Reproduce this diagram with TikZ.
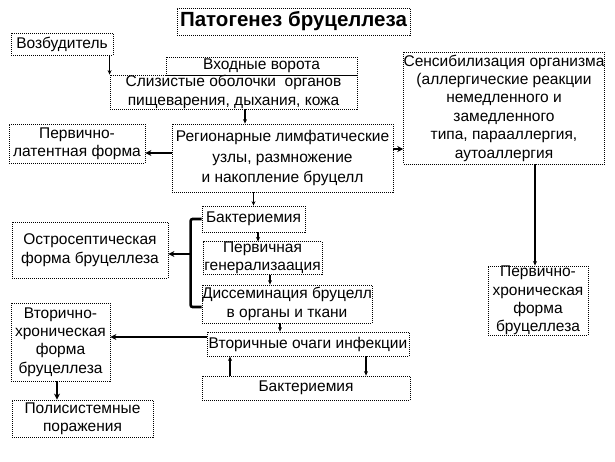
\documentclass[tikz,border=0pt]{standalone}
\usepackage{fontspec}
\setmainfont{Liberation Sans}
\usetikzlibrary{arrows.meta,calc}
\begin{document}
\begin{tikzpicture}[x=1pt,y=-1pt,
  box/.style={draw, dash pattern=on 1pt off 1pt, line width=0.8pt, inner sep=0pt,
    align=center, font=\fontsize{15.5}{18.4}\selectfont},
  thinarr/.style={line width=1.2pt, -{Stealth[length=4.5pt,width=4pt]}},
  thickarr/.style={line width=2.2pt, -{Stealth[length=6pt,width=6pt]}}]
\useasboundingbox (0,0) rectangle (615,461);
\fill[white] (0,0) rectangle (615,461);
% nodes
\node[box, minimum width=233, minimum height=27, font=\fontsize{20.5}{24}\selectfont\bfseries] (title) at (293.5,21.5) {Патогенез бруцеллеза};
\node[box, minimum width=102, minimum height=22] (vozb) at (62,44) {Возбудитель};
\node[box, minimum width=191, minimum height=18] (vhod) at (261.5,66) {Входные ворота};
\node[box, minimum width=247, minimum height=34] (sliz) at (233.5,92) {Слизистые оболочки \ органов\\пищеварения, дыхания, кожа};
\node[box, minimum width=221, minimum height=68, font=\fontsize{15.5}{20.5}\selectfont] (region) at (282.5,158) {Регионарные лимфатические\\узлы, размножение\\и накопление бруцелл};
\node[box, minimum width=136, minimum height=39] (perlat) at (77,143.5) {Первично-\\латентная форма};
\node[box, minimum width=198, minimum height=112] (sens) at (504,108) {Сенсибилизация организма\\(аллергические реакции\\немедленного и\\замедленного\\типа, парааллергия,\\аутоаллергия};
\node[box, minimum width=100, minimum height=65] (perchron) at (538,300.5) {Первично-\\хроническая\\форма\\бруцеллеза};
\node[box, minimum width=103, minimum height=26] (bakt1) at (253.5,219) {Бактериемия};
\node[box, minimum width=119, minimum height=32] (pergen) at (262.5,258) {Первичная\\генерализаация};
\node[box, minimum width=168, minimum height=38] (dissem) at (287,304) {Диссеминация бруцелл\\в органы и ткани};
\node[box, minimum width=156, minimum height=56] (ostro) at (90,250) {Остросептическая\\форма бруцеллеза};
\node[box, minimum width=202, minimum height=24] (vtor) at (308,344) {Вторичные очаги инфекции};
\node[box, minimum width=208, minimum height=24] (bakt2) at (306,388) {Бактериемия};
\node[box, minimum width=99, minimum height=78] (vtorchron) at (60.5,342) {Вторично-\\хроническая\\форма\\бруцеллеза};
\node[box, minimum width=141, minimum height=37] (polis) at (82.5,418.5) {Полисистемные\\поражения};
% connectors
\draw[thinarr] (vozb.south -| sliz.north west) -- (sliz.north west);
\draw[thinarr] ([xshift=11.5pt]sliz.south) -- ([xshift=11.5pt]sliz.south |- region.north);
\draw[thickarr] ([yshift=5pt]region.west) -- ([yshift=5pt]region.west -| perlat.east);
\draw[thickarr] ([yshift=9pt]region.east) -- ([yshift=9pt]region.east -| sens.west);
\draw[thinarr] ([xshift=-3pt]perchron.north |- sens.south) -- ([xshift=-3pt]perchron.north);
\draw[thinarr] (bakt1.north |- region.south) -- (bakt1.north);
\draw[thinarr] ([xshift=4.5pt]bakt1.south) -- ([xshift=4.5pt]bakt1.south |- pergen.north);
\draw[thinarr] ([xshift=7.5pt]pergen.south) -- ([xshift=7.5pt]pergen.south |- dissem.north);
\draw[thinarr] ([xshift=-7pt]dissem.south) -- ([xshift=-7pt]dissem.south |- vtor.north);
\coordinate (brtop) at ([xshift=-11pt]bakt1.west);
\draw[line width=2.6pt, rounded corners=2pt] (bakt1.west) -- (brtop) |- ([yshift=-3pt]dissem.west);
\draw[thickarr] ([yshift=-4pt]ostro.east -| brtop) -- ([yshift=-4pt]ostro.east);
\draw[thickarr] ([yshift=7pt]vtor.west) -- ([yshift=7pt]vtor.west -| vtorchron.east);
\draw[thinarr] ([xshift=-76pt]bakt2.north) -- ([xshift=-76pt]bakt2.north |- vtor.south);
\draw[thinarr] ([xshift=58pt]vtor.south) -- ([xshift=58pt]vtor.south |- bakt2.north);
\draw[thickarr] ([xshift=-3.5pt]vtorchron.south) -- ([xshift=-3.5pt]vtorchron.south |- polis.north);
\end{tikzpicture}
\end{document}
